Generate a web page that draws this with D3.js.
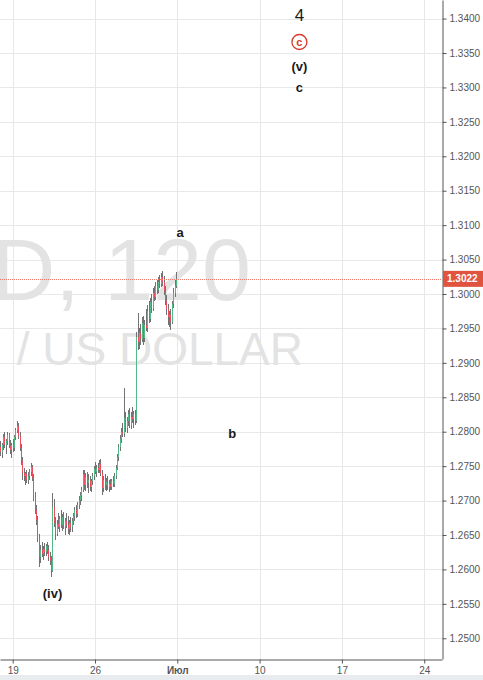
<!DOCTYPE html>
<html><head><meta charset="utf-8">
<script src="https://cdnjs.cloudflare.com/ajax/libs/d3/7.8.5/d3.min.js"></script>
<style>
body{margin:0;background:#fff;}
svg{display:block;font-family:"Liberation Sans",Arial,sans-serif;}
</style>
</head><body>
<svg id="chart" width="483" height="680"></svg>
<script>
// ---- DATA (GBPUSD, 120 min bars; bar index 0 = first bar of Jun 19, weekends removed) ----
const firstBar = -9;
const candles = [ // [open, high, low, close]
 [1.2778,1.2786,1.2765,1.2770],[1.2770,1.2784,1.2762,1.2780],[1.2780,1.2797,1.2774,1.2792],
 [1.2792,1.2800,1.2776,1.2781],[1.2781,1.2790,1.2768,1.2786],[1.2786,1.2799,1.2780,1.2795],
 [1.2795,1.2798,1.2776,1.2779],[1.2779,1.2788,1.2767,1.2773],[1.2773,1.2783,1.2762,1.2780],
 [1.2780,1.2789,1.2770,1.2776],[1.2776,1.2795,1.2772,1.2792],[1.2792,1.2806,1.2788,1.2802],
 [1.2802,1.2815,1.2798,1.2809],[1.2809,1.2812,1.2790,1.2794],[1.2794,1.2800,1.2772,1.2776],
 [1.2776,1.2782,1.2752,1.2758],[1.2758,1.2764,1.2730,1.2740],[1.2740,1.2748,1.2728,1.2735],
 [1.2735,1.2742,1.2722,1.2738],[1.2738,1.2745,1.2726,1.2730],[1.2730,1.2741,1.2724,1.2736],
 [1.2736,1.2746,1.2730,1.2742],[1.2742,1.2755,1.2736,1.2749],[1.2749,1.2752,1.2728,1.2733],
 [1.2733,1.2738,1.2700,1.2705],[1.2705,1.2712,1.2680,1.2686],[1.2686,1.2694,1.2665,1.2672],
 [1.2672,1.2678,1.2640,1.2646],[1.2646,1.2652,1.2604,1.2618],[1.2618,1.2636,1.2610,1.2628],
 [1.2628,1.2640,1.2618,1.2622],[1.2622,1.2634,1.2614,1.2630],[1.2630,1.2639,1.2620,1.2625],
 [1.2625,1.2637,1.2619,1.2634],[1.2634,1.2640,1.2622,1.2628],[1.2628,1.2636,1.2612,1.2618],
 [1.2618,1.2626,1.2606,1.2612],[1.2614,1.2620,1.2589,1.2598],[1.2598,1.2711,1.2596,1.2690],
 [1.2690,1.2702,1.2662,1.2668],[1.2668,1.2676,1.2643,1.2652],[1.2652,1.2672,1.2648,1.2666],
 [1.2666,1.2682,1.2658,1.2662],[1.2662,1.2678,1.2654,1.2673],[1.2673,1.2686,1.2660,1.2665],
 [1.2665,1.2680,1.2656,1.2676],[1.2676,1.2684,1.2658,1.2662],[1.2662,1.2674,1.2650,1.2670],
 [1.2670,1.2682,1.2660,1.2665],[1.2665,1.2678,1.2652,1.2658],[1.2658,1.2672,1.2650,1.2668],
 [1.2668,1.2676,1.2655,1.2661],[1.2661,1.2674,1.2654,1.2671],[1.2671,1.2682,1.2664,1.2678],
 [1.2678,1.2690,1.2670,1.2686],[1.2686,1.2694,1.2674,1.2680],[1.2680,1.2698,1.2676,1.2694],
 [1.2694,1.2706,1.2688,1.2701],[1.2701,1.2712,1.2694,1.2708],[1.2708,1.2720,1.2700,1.2715],
 [1.2715,1.2745,1.2712,1.2738],[1.2738,1.2744,1.2716,1.2722],[1.2722,1.2740,1.2714,1.2734],
 [1.2734,1.2742,1.2718,1.2725],[1.2725,1.2738,1.2711,1.2730],[1.2730,1.2736,1.2714,1.2719],
 [1.2719,1.2732,1.2713,1.2728],[1.2728,1.2740,1.2722,1.2735],[1.2735,1.2750,1.2730,1.2746],
 [1.2746,1.2756,1.2738,1.2742],[1.2742,1.2752,1.2734,1.2748],[1.2748,1.2755,1.2740,1.2744],
 [1.2744,1.2759,1.2740,1.2753],[1.2753,1.2760,1.2735,1.2740],[1.2740,1.2745,1.2708,1.2718],
 [1.2718,1.2735,1.2712,1.2730],[1.2730,1.2738,1.2716,1.2722],[1.2722,1.2733,1.2714,1.2727],
 [1.2727,1.2735,1.2716,1.2719],[1.2719,1.2730,1.2713,1.2724],[1.2724,1.2732,1.2715,1.2720],
 [1.2720,1.2731,1.2716,1.2728],[1.2728,1.2736,1.2720,1.2724],[1.2724,1.2740,1.2720,1.2736],
 [1.2736,1.2752,1.2732,1.2748],[1.2748,1.2768,1.2744,1.2764],[1.2764,1.2782,1.2758,1.2778],
 [1.2778,1.2795,1.2772,1.2790],[1.2790,1.2806,1.2784,1.2800],[1.2800,1.2812,1.2792,1.2796],
 [1.2796,1.2864,1.2792,1.2820],[1.2820,1.2828,1.2800,1.2806],[1.2806,1.2822,1.2798,1.2815],
 [1.2815,1.2832,1.2808,1.2826],[1.2826,1.2834,1.2805,1.2810],[1.2810,1.2828,1.2804,1.2822],
 [1.2822,1.2836,1.2812,1.2818],[1.2818,1.2830,1.2806,1.2826],[1.2826,1.2832,1.2810,1.2815],
 [1.2815,1.2945,1.2812,1.2938],[1.2938,1.2972,1.2918,1.2930],[1.2930,1.2950,1.2920,1.2944],
 [1.2944,1.2956,1.2926,1.2934],[1.2934,1.2966,1.2930,1.2958],[1.2958,1.2968,1.2926,1.2936],
 [1.2936,1.2962,1.2930,1.2955],[1.2955,1.2978,1.2946,1.2950],[1.2950,1.2984,1.2945,1.2976],
 [1.2976,1.2990,1.2958,1.2964],[1.2964,1.2994,1.2960,1.2988],[1.2988,1.3000,1.2972,1.2980],
 [1.2980,1.3008,1.2976,1.3002],[1.3002,1.3012,1.2990,1.2996],[1.2996,1.3018,1.2992,1.3012],
 [1.3012,1.3020,1.3000,1.3006],[1.3006,1.3024,1.3002,1.3018],[1.3018,1.3028,1.3008,1.3014],
 [1.3014,1.3030,1.3010,1.3024],[1.3024,1.3034,1.3012,1.3018],[1.3018,1.3026,1.2998,1.3004],
 [1.3004,1.3012,1.2984,1.2990],[1.2990,1.2998,1.2970,1.2978],[1.2978,1.2986,1.2955,1.2966],
 [1.2966,1.2975,1.2952,1.2970],[1.2970,1.2978,1.2948,1.2960],[1.2960,1.2990,1.2956,1.2985],
 [1.2985,1.3008,1.2980,1.3002],[1.3002,1.3020,1.2996,1.3012],[1.3012,1.3032,1.3008,1.3022]
];
const priceTicks = [1.25,1.255,1.26,1.265,1.27,1.275,1.28,1.285,1.29,1.295,1.30,
                    1.305,1.31,1.315,1.32,1.325,1.33,1.335,1.34];
const dateTickBars = [0,60,120,180,240,300];
const dateTickLabels = ["19","26","Июл","10","17","24"];
const lastPrice = 1.3022;
const watermarkSymbol = "GBPUSD, 120";
const watermarkDescA = "BRITISH POUND";
const watermarkDescB = " / US DOLLAR";
const annotationTexts  = ["4","c","(v)","c","a","b","(iv)"];
const annotationBars   = [209,209,209,209,122,160,29];
const annotationPrices = [1.3396,1.3366,1.3324,1.3293,1.3083,1.2791,1.2559];

// ---- LAYOUT ----
const W = 483, H = 680, plotW = 442, plotH = 659;
const svg = d3.select("#chart");
svg.append("rect").attr("width",W).attr("height",H).attr("fill","#fff");
svg.append("rect").attr("x",0).attr("y",675).attr("width",W).attr("height",5).attr("fill","#e9ecef");

const x = d3.scaleLinear().domain([-9.26, 312.96]).range([0, plotW]);
const y = d3.scaleLinear().domain([1.24699, 1.34270]).range([plotH, 0]);

const grid = svg.append("g").attr("shape-rendering","crispEdges");
grid.selectAll(".hg").data(priceTicks).join("line")
  .attr("x1",0).attr("x2",plotW)
  .attr("y1",d=>Math.round(y(d))+0.5).attr("y2",d=>Math.round(y(d))+0.5)
  .attr("stroke","#e8e8e8");
grid.selectAll(".vg").data(dateTickBars).join("line")
  .attr("y1",0).attr("y2",plotH)
  .attr("x1",d=>Math.round(x(d))+0.5).attr("x2",d=>Math.round(x(d))+0.5)
  .attr("stroke","#e8e8e8");

// watermark
const wm = svg.append("g").attr("fill","#e3e3e3");
wm.append("text").attr("x",251).attr("y",300).attr("text-anchor","end")
  .attr("font-size",88).text(watermarkSymbol);
const wl2 = wm.append("text").attr("x",303).attr("y",365).attr("text-anchor","end")
  .attr("font-size",46);
wl2.append("tspan").text(watermarkDescA);
wl2.append("tspan").attr("dx",16).text(watermarkDescB);

// candles
const cg = svg.append("g").attr("shape-rendering","crispEdges");
candles.forEach((c,k)=>{
  const [o,h,l,cl] = c;
  const px = Math.round(x(firstBar + k));
  cg.append("rect").attr("x",px).attr("width",1)
    .attr("y",y(h)).attr("height",Math.max(1,y(l)-y(h))).attr("fill","#737375");
  const top = y(Math.max(o,cl)), bot = y(Math.min(o,cl));
  cg.append("rect").attr("x",px).attr("width",1)
    .attr("y",top).attr("height",Math.max(1,bot-top))
    .attr("fill", cl>=o ? "#53b987" : "#eb4d5c");
});

// last price line
svg.append("line").attr("x1",0).attr("x2",plotW)
  .attr("y1",Math.round(y(lastPrice))+0.5).attr("y2",Math.round(y(lastPrice))+0.5)
  .attr("stroke","#f2766a").attr("stroke-dasharray","1,1")
  .attr("shape-rendering","crispEdges");

// axes
const yAxis = d3.axisRight(y).tickValues(priceTicks).tickFormat(d3.format(".4f"))
  .tickSize(4).tickSizeOuter(0).tickPadding(3);
const ya = svg.append("g").attr("transform",`translate(${plotW+0.5},0)`).call(yAxis);
const xAxis = d3.axisBottom(x).tickValues(dateTickBars).tickFormat((d,i)=>dateTickLabels[i])
  .tickSize(4).tickSizeOuter(0).tickPadding(3);
const xa = svg.append("g").attr("transform",`translate(0,${plotH+0.5})`).call(xAxis);
[ya,xa].forEach(g=>{
  g.select(".domain").attr("stroke","#555");
  g.selectAll(".tick line").attr("stroke","#555");
  g.selectAll(".tick text").attr("fill","#555").attr("font-size",10)
    .attr("font-family","'Liberation Sans',Arial,sans-serif");
});
xa.selectAll(".tick text").filter((d,i)=>dateTickLabels[i]==="Июл").attr("font-weight","bold");

// last price label
const ly = y(lastPrice);
svg.append("rect").attr("x",plotW+1).attr("y",ly-8).attr("width",W-plotW-1).attr("height",16)
  .attr("fill","#e0533f");
svg.append("text").attr("x",plotW+5).attr("y",ly).attr("dy","0.35em")
  .attr("fill","#fff").attr("font-size",10).attr("font-weight","bold")
  .text(d3.format(".4f")(lastPrice));

// annotations
const ag = svg.append("g");
annotationTexts.forEach((t,i)=>{
  const ax = x(annotationBars[i]), ay = y(annotationPrices[i]);
  if (i===1) {
    ag.append("circle").attr("cx",ax).attr("cy",ay).attr("r",7.5)
      .attr("fill","none").attr("stroke","#d63a2a").attr("stroke-width",1.3);
    ag.append("text").attr("x",ax).attr("y",ay).attr("dy","0.33em")
      .attr("text-anchor","middle").attr("font-size",11).attr("font-weight","bold")
      .attr("fill","#d63a2a").text(t);
  } else {
    ag.append("text").attr("x",ax).attr("y",ay).attr("text-anchor","middle")
      .attr("font-size", i===0 ? 17 : 13).attr("font-weight", i===0 ? "normal" : "bold")
      .attr("fill","#1a1a1a").text(t);
  }
});
</script>
</body></html>
